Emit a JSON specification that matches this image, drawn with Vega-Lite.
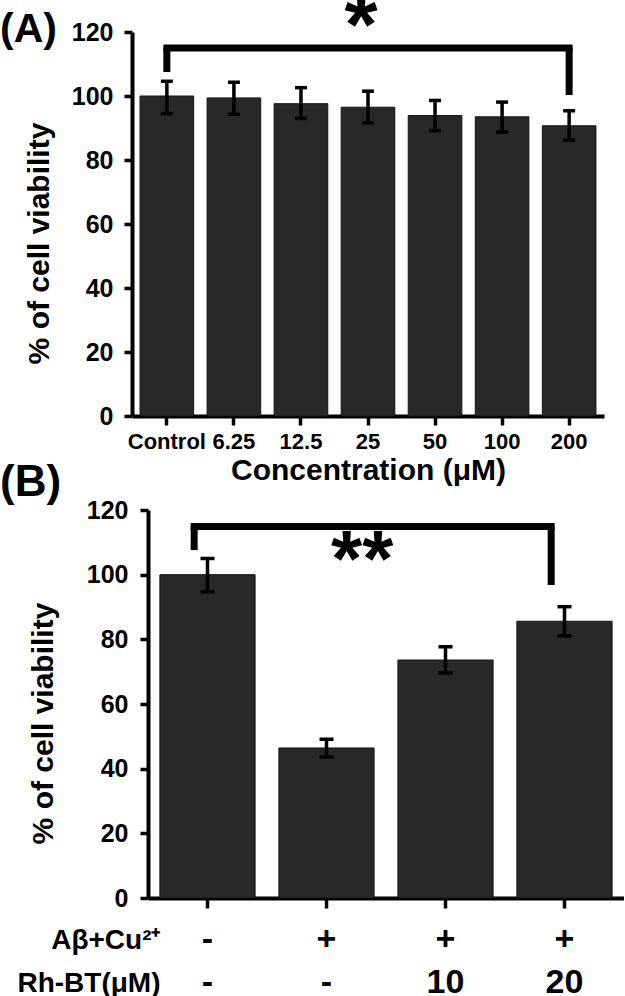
{
  "$schema": "https://vega.github.io/schema/vega-lite/v6.json",
  "padding": {"left": 0, "top": -14, "right": 0, "bottom": 0},
  "background": "white",
  "columns": 1,
  "align": "none",
  "spacing": -24,
  "config": {
    "view": {"stroke": null},
    "font": "Liberation Sans",
    "axis": {
      "grid": false,
      "domainColor": "black",
      "tickColor": "black",
      "labelColor": "black",
      "titleColor": "black",
      "labelFont": "Liberation Sans",
      "titleFont": "Liberation Sans",
      "labelFontWeight": "bold",
      "titleFontWeight": "bold",
      "domainWidth": 4,
      "tickWidth": 3.5,
      "labelOverlap": false,
      "labelLimit": 0
    }
  },
  "concat": [
    {
      "width": 456,
      "height": 384,
      "title": {"text": "(A)", "anchor": "start", "frame": "group", "dx": -148, "dy": 8, "offset": -57, "fontSize": 41, "font": "Liberation Sans", "fontWeight": "bold", "color": "black"},
      "data": {"values": [
        {"conc": "Control", "v": 100, "lo": 94.5, "hi": 104.6},
        {"conc": "6.25", "v": 99.4, "lo": 94.3, "hi": 104.3},
        {"conc": "12.5", "v": 97.6, "lo": 93.0, "hi": 102.6},
        {"conc": "25", "v": 96.5, "lo": 91.6, "hi": 101.5},
        {"conc": "50", "v": 93.9, "lo": 89.2, "hi": 98.6},
        {"conc": "100", "v": 93.5, "lo": 88.7, "hi": 98.1},
        {"conc": "200", "v": 90.7, "lo": 86.2, "hi": 95.4}
      ]},
      "layer": [
        {
          "mark": {"type": "bar", "fill": "#282828", "stroke": "#151515", "strokeWidth": 1},
          "encoding": {
            "x": {
              "field": "conc", "type": "nominal",
              "scale": {"domain": ["Control", "6.25", "12.5", "25", "50", "100", "200"], "range": [-16, 456], "paddingInner": 0.2, "paddingOuter": 0.12},
              "axis": {"title": "Concentration (μM)", "labelAngle": 0, "labelFontSize": 22, "tickSize": 9, "labelPadding": 6, "titleFontSize": 30, "titlePadding": 3}
            },
            "y": {
              "field": "v", "type": "quantitative",
              "scale": {"domain": [0, 120], "nice": false},
              "axis": {"title": "% of cell viability", "offset": 16, "values": [0, 20, 40, 60, 80, 100, 120], "labelFontSize": 25, "tickSize": 8, "labelPadding": 11, "titleFontSize": 30, "titlePadding": 17, "titleY": 211}
            }
          }
        },
        {
          "mark": {"type": "rule", "strokeWidth": 3.5, "color": "black"},
          "encoding": {
            "x": {"field": "conc", "type": "nominal"},
            "y": {"field": "lo", "type": "quantitative"},
            "y2": {"field": "hi"}
          }
        },
        {
          "mark": {"type": "tick", "size": 12, "thickness": 3.5, "color": "black", "opacity": 1},
          "encoding": {
            "x": {"field": "conc", "type": "nominal"},
            "y": {"field": "lo", "type": "quantitative"}
          }
        },
        {
          "mark": {"type": "tick", "size": 12, "thickness": 3.5, "color": "black", "opacity": 1},
          "encoding": {
            "x": {"field": "conc", "type": "nominal"},
            "y": {"field": "hi", "type": "quantitative"}
          }
        },
        {
          "data": {"values": [{"a": "Control", "b": "200", "y": 115}]},
          "mark": {"type": "rule", "strokeWidth": 7, "color": "black", "strokeCap": "square"},
          "encoding": {
            "x": {"field": "a", "type": "nominal"},
            "x2": {"field": "b"},
            "y": {"field": "y", "type": "quantitative"}
          }
        },
        {
          "data": {"values": [{"a": "Control", "lo": 107.5, "hi": 115}, {"a": "200", "lo": 100.3, "hi": 115}]},
          "mark": {"type": "rule", "strokeWidth": 7, "color": "black"},
          "encoding": {
            "x": {"field": "a", "type": "nominal"},
            "y": {"field": "lo", "type": "quantitative"},
            "y2": {"field": "hi"}
          }
        },
        {
          "data": {"values": [{"a": "25", "y": 113, "t": "*"}]},
          "mark": {"type": "text", "fontSize": 85, "fontWeight": "bold", "font": "Liberation Sans", "baseline": "alphabetic", "color": "black"},
          "encoding": {
            "x": {"field": "a", "type": "nominal", "bandPosition": 0.37},
            "y": {"field": "y", "type": "quantitative"},
            "text": {"field": "t"}
          }
        }
      ]
    },
    {
      "width": 476,
      "height": 388,
      "title": {"text": "(B)", "anchor": "start", "frame": "group", "dx": -148, "offset": -7, "fontSize": 44, "font": "Liberation Sans", "fontWeight": "bold", "color": "black"},
      "data": {"values": [
        {"g": "-|-", "v": 100, "lo": 94.7, "hi": 105.0},
        {"g": "+|-", "v": 46.4, "lo": 43.6, "hi": 49.1},
        {"g": "+|10", "v": 73.6, "lo": 69.6, "hi": 77.7},
        {"g": "+|20", "v": 85.6, "lo": 81.1, "hi": 90.1}
      ]},
      "layer": [
        {
          "mark": {"type": "bar", "fill": "#282828", "stroke": "#151515", "strokeWidth": 1},
          "encoding": {
            "x": {
              "field": "g", "type": "nominal",
              "scale": {"domain": ["-|-", "+|-", "+|10", "+|20"], "paddingInner": 0.2, "paddingOuter": 0.1},
              "axis": {
                "labelExpr": "split(datum.label, '|')",
                "labelAngle": 0, "labelFontSize": 34, "labelLineHeight": 43, "labelBaseline": "top",
                "tickSize": 10, "labelPadding": 14,
                "title": ["Aβ+Cu²⁺", "Rh-BT(μM)"],
                "titleFontSize": 28, "titleLineHeight": 43, "titleAlign": "right", "titleBaseline": "alphabetic",
                "titleX": 12, "titleY": 50
              }
            },
            "y": {
              "field": "v", "type": "quantitative",
              "scale": {"domain": [0, 120], "nice": false},
              "axis": {"title": "% of cell viability", "values": [0, 20, 40, 60, 80, 100, 120], "labelFontSize": 25, "tickSize": 8, "labelPadding": 12, "titleFontSize": 30, "titlePadding": 28, "titleY": 213}
            }
          }
        },
        {
          "mark": {"type": "rule", "strokeWidth": 3.5, "color": "black"},
          "encoding": {
            "x": {"field": "g", "type": "nominal"},
            "y": {"field": "lo", "type": "quantitative"},
            "y2": {"field": "hi"}
          }
        },
        {
          "mark": {"type": "tick", "size": 14, "thickness": 3.5, "color": "black", "opacity": 1},
          "encoding": {
            "x": {"field": "g", "type": "nominal"},
            "y": {"field": "lo", "type": "quantitative"}
          }
        },
        {
          "mark": {"type": "tick", "size": 14, "thickness": 3.5, "color": "black", "opacity": 1},
          "encoding": {
            "x": {"field": "g", "type": "nominal"},
            "y": {"field": "hi", "type": "quantitative"}
          }
        },
        {
          "data": {"values": [{"a": "-|-", "b": "+|20", "y": 114.9}]},
          "mark": {"type": "rule", "strokeWidth": 7, "color": "black", "strokeCap": "square"},
          "encoding": {
            "x": {"field": "a", "type": "nominal", "bandPosition": 0.36},
            "x2": {"field": "b", "bandPosition": 0.36},
            "y": {"field": "y", "type": "quantitative"}
          }
        },
        {
          "data": {"values": [{"a": "-|-", "lo": 107.6, "hi": 114.9}, {"a": "+|20", "lo": 96.8, "hi": 114.9}]},
          "mark": {"type": "rule", "strokeWidth": 7, "color": "black"},
          "encoding": {
            "x": {"field": "a", "type": "nominal", "bandPosition": 0.36},
            "y": {"field": "lo", "type": "quantitative"},
            "y2": {"field": "hi"}
          }
        },
        {
          "data": {"values": [{"a": "+|-", "y": 96.5, "t": "**"}]},
          "mark": {"type": "text", "fontSize": 80, "fontWeight": "bold", "font": "Liberation Sans", "baseline": "alphabetic", "color": "black"},
          "encoding": {
            "x": {"field": "a", "type": "nominal", "bandPosition": 0.875},
            "y": {"field": "y", "type": "quantitative"},
            "text": {"field": "t"}
          }
        }
      ]
    }
  ]
}
